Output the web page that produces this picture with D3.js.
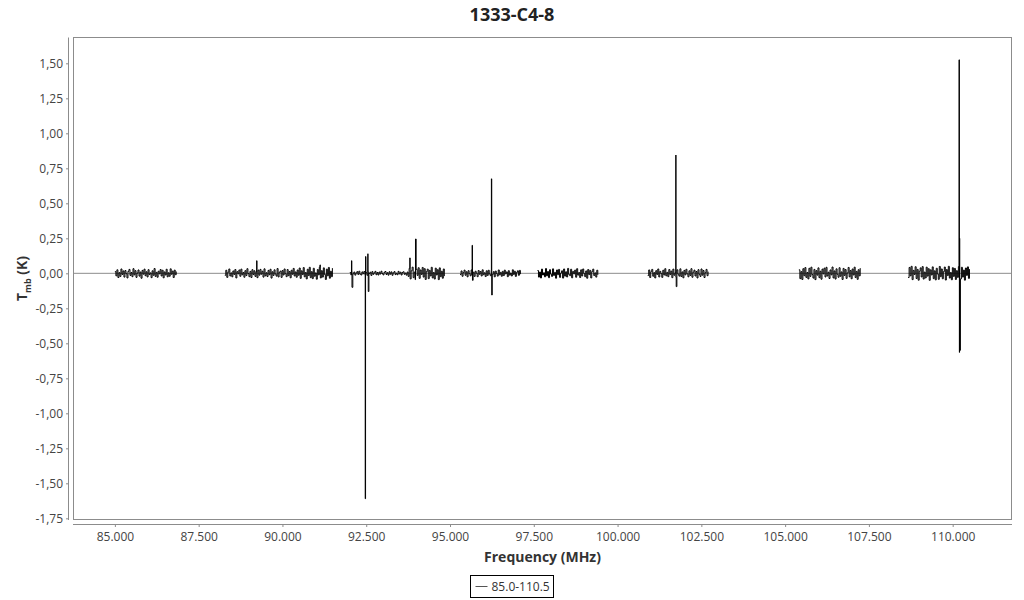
<!DOCTYPE html>
<html>
<head>
<meta charset="utf-8">
<script src="https://d3js.org/d3.v7.min.js"></script>
<style>
  body { margin: 0; background: #fff; }
  text { font-family: "Open Sans", sans-serif; }
</style>
</head>
<body>
<svg id="svg1" width="1024" height="600"></svg>
<script>
// spectral windows: start frequency (MHz), channel width (MHz), Tmb in mK
var bandStart = [85.00, 88.28, 92.01, 95.30, 97.61, 100.90, 105.41, 108.67];
var bandStep = 0.03;
var band0 = [12,-18,25,-30,5,-22,31,-8,17,-27,20,-3,-33,14,28,-15,6,-24,33,-11,19,-29,2,24,-20,9,-35,21,-6,30,
  -17,11,-26,26,-9,3,-31,18,-14,34,-22,7,-28,15,-4,27,-19,22,-32,10,-12,29,-25,4,-21,32,-7,16,-30,23,-10,13];
var band1 = [-14,22,-29,8,31,-19,3,-25,17,-8,27,-33,12,-4,24,-21,30,-11,6,-28,19,-16,33,-2,-24,14,-30,26,-9,18,-22,9,
  -31,23,-13,28,-6,15,-27,32,-18,4,-23,21,-10,29,-34,11,-15,25,-5,-20,34,-26,7,16,-29,20,-12,31,
  -3,-24,27,-17,13,-32,22,-7,35,-19,10,-28,24,-14,38,-36,18,-9,41,-25,6,-40,29,-16,43,-31,12,-38,
  36,-21,3,-42,27,-11,44,-33,19,-27,39,-8,-44,30,-18,42,-35,15,-24,37];
var band2 = [6,-11,14,-4,9,-13,2,12,-8,15,-6,-12,10,-3,13,-9,5,-14,11,-1,8,-15,12,-7,3,14,-10,6,-12,9,
  -5,15,-2,-11,7,13,-8,4,-13,11,-6,10,-14,3,12,-9,1,-10,14,-4,8,-12,6,11,-7,2,-13,9,
  -22,35,-40,18,44,-31,9,-45,28,-15,40,-36,24,-8,42,-27,33,-44,12,30,-38,21,-19,43,-33,6,-41,37,-12,26,
  -45,39,-24,15,-35,31,-20];
var band3 = [-9,17,-21,5,23,-14,11,-25,19,-3,-18,24,-12,8,-22,15,1,-24,20,-7,13,-19,25,-10,4,-23,18,-15,22,-5,
  -17,21,-8,12,-25,16,-2,-20,24,-11,7,-21,14,-16,23,-4,10,-24,19,-13,2,-19,25,-8,15,-22,6,18,-14,21,-6];
var band4 = [20,-27,9,-33,30,-12,4,-25,34,-18,13,-31,26,-6,-22,32,-15,7,-35,24,-10,28,-29,2,18,-34,31,-20,11,-26,
  35,-8,-17,29,-32,14,-4,23,-28,33,-13,6,-30,25,-19,31,-1,-24,17,-35,27,-9,21,-33,12,30,-16,3,-27,22,-11];
var band5 = [-16,24,-30,11,28,-21,5,-33,19,-8,31,-26,14,-2,-29,22,-12,33,-18,7,-24,27,-9,16,-31,30,-14,3,-27,25,
  -6,-20,32,-23,10,-32,21,-11,29,-4,-25,18,-15,33,-28,8,23,-19,13,-33,26,-7,-22,31,-13,20,-30,4,28,-17,12];
var band6 = [25,-38,12,-44,33,-17,41,-29,6,-40,36,-22,44,-9,-34,28,-45,19,-13,39,-31,15,-42,30,-4,37,-26,43,-19,8,
  -37,24,-11,45,-33,17,-41,32,-7,-28,40,-21,10,-44,35,-15,27,-36,3,42,-25,20,-39,31,-12,44,-30,14,-43,26,-18,37];
var band7 = [-30,42,-18,50,-45,21,-8,47,-37,28,-49,15,39,-26,48,-41,9,-33,44,-20,33,-50,25,-12,46,-38,18,-47,36,-5,
  -43,49,-24,31,-39,12,45,-48,27,-16,50,-34,6,-46,40,-22,35,-44,19,-29,48,-11,-40,43,-27,23,-49,38,-15,46,-36,30];
var bandValues = [band0, band1, band2, band3, band4, band5, band6, band7];

// line channels (MHz, K)
var lineFreq = [89.23, 91.12, 92.06, 92.075, 92.47, 92.48, 92.55, 92.56, 93.80, 93.97,
  95.66, 95.67, 96.235, 96.245, 101.74, 101.75, 110.19, 110.20, 110.205, 110.21];
var lineTmb = [0.09, 0.06, 0.09, -0.10, -1.61, 0.12, 0.14, -0.13, 0.11, 0.245,
  0.20, -0.05, 0.675, -0.155, 0.845, -0.095, 1.525, -0.565, 0.25, -0.55];

var xTicks = [85, 87.5, 90, 92.5, 95, 97.5, 100, 102.5, 105, 107.5, 110];
var yTicks = [1.5, 1.25, 1, 0.75, 0.5, 0.25, 0, -0.25, -0.5, -0.75, -1, -1.25, -1.5, -1.75];
var seriesName = "85.0-110.5";

var margin = {top: 37, right: 12, bottom: 80, left: 73};
var width = 1024 - margin.left - margin.right;
var height = 600 - margin.top - margin.bottom;

var svg = d3.select("#svg1")
  .append("g")
    .attr("transform", "translate(" + margin.left + "," + margin.top + ")");

var x = d3.scaleLinear().domain([83.75, 111.77]).range([0, width]);
var y = d3.scaleLinear().domain([-1.762, 1.688]).range([height, 0]);

// build points per window, then merge the line channels that fall inside
var bands = bandValues.map(function(vals, b) {
  var pts = vals.map(function(v, i) {
    return {f: bandStart[b] + i * bandStep, t: v / 1000};
  });
  var f0 = pts[0].f, f1 = pts[pts.length - 1].f;
  lineFreq.forEach(function(f, j) {
    if (f >= f0 && f <= f1) pts.push({f: f, t: lineTmb[j]});
  });
  pts.sort(function(a, b) { return a.f - b.f; });
  return pts;
});

// zero line
svg.append("line")
  .attr("x1", 0).attr("x2", width)
  .attr("y1", y(0)).attr("y2", y(0))
  .attr("stroke", "#8c8c8c");

// channels drawn as steps, like a histogram spectrum
var line = d3.line()
  .curve(d3.curveStepAfter)
  .x(function(d) { return x(d.f); })
  .y(function(d) { return y(d.t); });

svg.selectAll(".band")
  .data(bands)
  .enter()
  .append("path")
  .attr("class", "band")
  .attr("d", line)
  .attr("fill", "none")
  .attr("stroke", "#000")
  .attr("stroke-width", 1);

// frame
svg.append("rect")
  .attr("x", 0.5).attr("y", 0.5)
  .attr("width", width - 1).attr("height", height - 1)
  .attr("fill", "none")
  .attr("stroke", "#8c8c8c");

var yAxis = svg.append("g")
  .attr("transform", "translate(-4,0)")
  .call(d3.axisLeft(y).tickValues(yTicks).tickSize(3).tickPadding(3)
    .tickFormat(function(d) { return d3.format(".2f")(d).replace(".", ",").replace("\u2212", "-"); }));
yAxis.select(".domain").attr("d", "M-0.5," + height + "V0.5").attr("stroke", "#8c8c8c");

var xAxis = svg.append("g")
  .attr("transform", "translate(0," + (height + 4) + ")")
  .call(d3.axisBottom(x).tickValues(xTicks).tickSize(3).tickPadding(5)
    .tickFormat(d3.format(".3f")));
xAxis.select(".domain").attr("d", "M0,0.5H" + width).attr("stroke", "#8c8c8c");

svg.selectAll(".tick line").attr("stroke", "#8c8c8c");
svg.selectAll(".tick text")
  .attr("fill", "#444")
  .style("font-size", "12px")
  .style("font-family", "'Open Sans', sans-serif");

// titles
d3.select("#svg1").append("text")
  .attr("x", 512).attr("y", 21)
  .attr("text-anchor", "middle")
  .style("font-size", "18px").style("font-weight", "bold")
  .attr("fill", "#222")
  .text("1333-C4-8");

d3.select("#svg1").append("text")
  .attr("x", margin.left + width / 2).attr("y", 562)
  .attr("text-anchor", "middle")
  .style("font-size", "14px").style("font-weight", "bold")
  .attr("fill", "#333")
  .text("Frequency (MHz)");

var yLabel = d3.select("#svg1").append("text")
  .attr("transform", "translate(27," + (margin.top + height / 2) + ") rotate(-90)")
  .attr("text-anchor", "middle")
  .style("font-size", "14px").style("font-weight", "bold")
  .attr("fill", "#333");
yLabel.append("tspan").text("T");
yLabel.append("tspan").attr("dy", 4).style("font-size", "9px").text("mb");
yLabel.append("tspan").attr("dy", -4).text(" (K)");

// legend
var legend = d3.select("#svg1").append("g")
  .attr("transform", "translate(470.5,575.5)");
legend.append("rect")
  .attr("width", 83).attr("height", 22)
  .attr("fill", "#fff").attr("stroke", "#000");
legend.append("line")
  .attr("x1", 5).attr("x2", 17).attr("y1", 11).attr("y2", 11)
  .attr("stroke", "#555");
legend.append("text")
  .attr("x", 21).attr("y", 15.5)
  .style("font-size", "12px")
  .attr("fill", "#333")
  .text(seriesName);
</script>
</body>
</html>
